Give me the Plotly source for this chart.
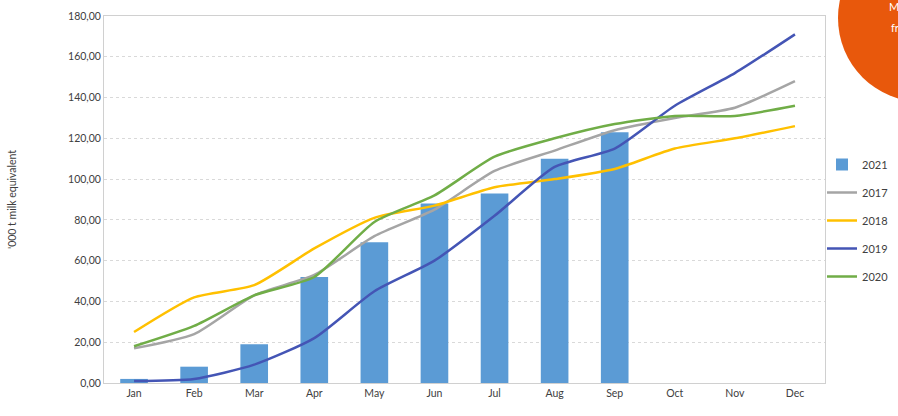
import plotly.graph_objects as go

months = ["Jan", "Feb", "Mar", "Apr", "May", "Jun", "Jul", "Aug", "Sep", "Oct", "Nov", "Dec"]
y2021 = [2, 8, 19, 52, 69, 88, 93, 110, 123]
y2017 = [17, 24, 43, 53, 72, 85, 104, 114, 124, 130, 135, 148]
y2018 = [25, 42, 48, 66, 81, 87, 96, 100, 105, 115, 120, 126]
y2019 = [1, 2, 9, 22, 45, 60, 82, 106, 115, 136, 152, 171]
y2020 = [18, 28, 43, 52, 79, 92, 111, 120, 127, 131, 131, 136]
ytick_vals = [0, 20, 40, 60, 80, 100, 120, 140, 160, 180]

fig = go.Figure()
fig.add_trace(go.Bar(x=months[:len(y2021)], y=y2021, name="2021", legendgroup="a",
                     marker=dict(color="#5B9BD5", line=dict(width=0)), width=0.46))
for name, ys, col in [("2017", y2017, "#A5A5A5"), ("2018", y2018, "#FFC000"),
                      ("2019", y2019, "#4455B5"), ("2020", y2020, "#70AD47")]:
    fig.add_trace(go.Scatter(x=months, y=ys, name=name, mode="lines", legendgroup=name,
                             line=dict(color=col, width=2.5, shape="spline", smoothing=0.6)))

W = 898
T, B, L, R = 16, 383, 104, 825
def px(x):
    return (x - L) / (W - L)
def py(y):
    return (B - y) / (B - T)

fig.update_layout(
    width=W, height=416,
    margin=dict(l=L, r=0, t=T, b=416 - B, autoexpand=False),
    paper_bgcolor="white", plot_bgcolor="white",
    separators=", ",
    font=dict(family="Lato, Open Sans, sans-serif", size=11, color="#404040"),
    showlegend=True,
    legend=dict(x=px(822), y=py(150), xanchor="left", yanchor="top", traceorder="grouped",
                font=dict(size=11, color="#404040"), itemwidth=30,
                tracegroupgap=9, bgcolor="rgba(0,0,0,0)"),
    xaxis=dict(domain=[0, px(R)], categoryorder="array", categoryarray=months,
               range=[-0.5, 11.5],
               showline=True, linecolor="#D0D0D0", mirror=True, ticks="",
               showgrid=False, tickfont=dict(size=10.5)),
    yaxis=dict(range=[0, 180], tickvals=ytick_vals, tickformat=".2f",
               showline=True, linecolor="#D0D0D0", mirror=True,
               gridcolor="#D9D9D9", griddash="dot", gridwidth=1,
               zeroline=False, ticks="", tickfont=dict(size=10.5)),
)

fig.add_annotation(xref="paper", yref="paper", x=px(12), y=py(200),
                   text="'000 t milk equivalent", showarrow=False, textangle=-90,
                   xanchor="center", yanchor="middle", font=dict(size=10.5, color="#404040"))

fig.add_shape(type="circle", xref="paper", yref="paper",
              x0=px(838), x1=px(1006), y0=py(102), y1=py(-66),
              fillcolor="#E8580C", line=dict(width=0), layer="above")
fig.add_annotation(xref="paper", yref="paper", x=px(887), y=py(6),
                   text="M", showarrow=False, xanchor="left", yanchor="middle",
                   font=dict(color="white", size=11))
fig.add_annotation(xref="paper", yref="paper", x=px(889), y=py(27),
                   text="fr", showarrow=False, xanchor="left", yanchor="middle",
                   font=dict(color="white", size=11))

fig.write_html("out.html", config={"displayModeBar": False},
               post_script="document.body.style.margin='0';document.body.style.overflow='hidden';")
